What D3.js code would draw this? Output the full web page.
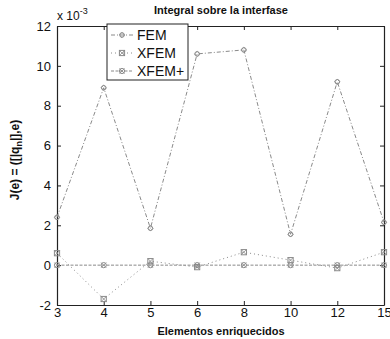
<!DOCTYPE html>
<html>
<head>
<meta charset="utf-8">
<script src="https://cdn.jsdelivr.net/npm/d3@7"></script>
<style>
  html, body { margin: 0; padding: 0; background: #fff; }
  svg { display: block; font-family: "Liberation Sans", Arial, sans-serif; }
</style>
</head>
<body>
<svg id="chart" width="390" height="339"></svg>
<script>
// Number of enriched elements (x categories)
const categories = ["3", "4", "5", "6", "8", "10", "12", "15"];
// J(e) values, in units of 1e-3
const femValues   = [2.4, 8.9, 1.85, 10.6, 10.8, 1.55, 9.2, 2.15];
const xfemValues  = [0.6, -1.7, 0.2, -0.1, 0.65, 0.25, -0.15, 0.65];
const xfemPValues = [0.0, 0.0, 0.0, 0.0, 0.0, 0.0, 0.0, 0.0];
const yTicks = [-2, 0, 2, 4, 6, 8, 10, 12];
const seriesNames = ["FEM", "XFEM", "XFEM+"];
const scaleFactor = 1e-3;

const series = [
  { name: seriesNames[0], values: femValues,   dash: "4,2,1,2", marker: "diamond" },
  { name: seriesNames[1], values: xfemValues,  dash: "1,3",     marker: "boxx" },
  { name: seriesNames[2], values: xfemPValues, dash: "3,1.5",   marker: "circlex" }
];

const svg = d3.select("#chart");
const L = 57, R = 384, T = 26, B = 305;

const x = d3.scalePoint().domain(categories).range([L, R]).padding(0);
const y = d3.scaleLinear().domain([-2 * scaleFactor, 12 * scaleFactor]).range([B, T]);

const ink = "#222";
const markColor = "#8a8a8a";

// axes box with inward ticks on all four sides
const fmt = d => String(Math.round(d / scaleFactor));
const tickVals = yTicks.map(v => v * scaleFactor);

const gLeft = svg.append("g").attr("transform", `translate(${L},0)`)
  .call(d3.axisLeft(y).tickValues(tickVals).tickFormat(fmt).tickSizeInner(-4).tickSizeOuter(0).tickPadding(6));
const gRight = svg.append("g").attr("transform", `translate(${R},0)`)
  .call(d3.axisRight(y).tickValues(tickVals).tickFormat("").tickSizeInner(-4).tickSizeOuter(0));
const gBottom = svg.append("g").attr("transform", `translate(0,${B})`)
  .call(d3.axisBottom(x).tickSizeInner(-4).tickSizeOuter(0).tickPadding(3));
const gTop = svg.append("g").attr("transform", `translate(0,${T})`)
  .call(d3.axisTop(x).tickFormat("").tickSizeInner(-4).tickSizeOuter(0));

[gLeft, gRight, gBottom, gTop].forEach(g => {
  g.selectAll(".domain").attr("stroke", ink).attr("stroke-width", 1.2);
  g.selectAll(".tick line").attr("stroke", ink);
  g.selectAll("text").attr("font-size", 13).attr("fill", "#111")
    .attr("font-family", "'Liberation Sans', Arial, sans-serif");
});
gBottom.selectAll("text").attr("y", 3).attr("dy", "0.71em");

// series lines
const line = d3.line().x((d, i) => x(categories[i])).y(d => y(d * scaleFactor));

function drawMarker(g, type, cx, cy) {
  const s = 2.6;
  if (type === "diamond") {
    g.append("path").attr("d", `M${cx - s},${cy}L${cx},${cy - s}L${cx + s},${cy}L${cx},${cy + s}Z`)
      .attr("fill", "none").attr("stroke", markColor).attr("stroke-width", 1);
    g.append("circle").attr("cx", cx).attr("cy", cy).attr("r", s * 0.9)
      .attr("fill", "none").attr("stroke", markColor).attr("stroke-width", 0.8);
  } else if (type === "boxx") {
    g.append("rect").attr("x", cx - s).attr("y", cy - s).attr("width", 2 * s).attr("height", 2 * s)
      .attr("fill", "none").attr("stroke", markColor).attr("stroke-width", 1);
    g.append("path").attr("d", `M${cx - s},${cy - s}L${cx + s},${cy + s}M${cx + s},${cy - s}L${cx - s},${cy + s}`)
      .attr("stroke", markColor).attr("stroke-width", 0.8);
  } else {
    g.append("circle").attr("cx", cx).attr("cy", cy).attr("r", s)
      .attr("fill", "none").attr("stroke", markColor).attr("stroke-width", 1);
    g.append("path").attr("d", `M${cx - s},${cy - s}L${cx + s},${cy + s}M${cx + s},${cy - s}L${cx - s},${cy + s}`)
      .attr("stroke", markColor).attr("stroke-width", 0.8);
  }
}

series.forEach(s => {
  const g = svg.append("g");
  g.append("path").datum(s.values).attr("d", line)
    .attr("fill", "none").attr("stroke", markColor).attr("stroke-width", 1)
    .attr("stroke-dasharray", s.dash);
  s.values.forEach((v, i) => drawMarker(g, s.marker, x(categories[i]), y(v * scaleFactor)));
});

// legend
const lg = svg.append("g");
lg.append("rect").attr("x", 107).attr("y", 24).attr("width", 81).attr("height", 56)
  .attr("fill", "#fff").attr("stroke", ink).attr("stroke-width", 1);
series.forEach((s, i) => {
  const yy = 35 + i * 18;
  lg.append("line").attr("x1", 111).attr("x2", 133).attr("y1", yy).attr("y2", yy)
    .attr("stroke", markColor).attr("stroke-width", 1).attr("stroke-dasharray", s.dash);
  drawMarker(lg, s.marker, 122, yy);
  lg.append("text").attr("x", 137).attr("y", yy + 5).attr("font-size", 14).attr("fill", "#111")
    .text(s.name);
});

// exponent label
const ex = svg.append("text").attr("x", 57).attr("y", 20).attr("font-size", 12).attr("fill", "#111");
ex.append("tspan").text("x 10");
ex.append("tspan").attr("dy", -6).attr("font-size", 9).text("-3");

// title and axis labels
svg.append("text").attr("x", 221).attr("y", 14).attr("text-anchor", "middle")
  .attr("font-size", 11).attr("font-weight", "bold").attr("fill", "#111")
  .text("Integral sobre la interfase");

svg.append("text").attr("x", 221).attr("y", 335).attr("text-anchor", "middle")
  .attr("font-size", 11).attr("font-weight", "bold").attr("fill", "#111")
  .text("Elementos enriquecidos");

const yl = svg.append("text").attr("transform", "translate(19,160) rotate(-90)")
  .attr("text-anchor", "middle").attr("font-size", 12).attr("font-weight", "bold").attr("fill", "#111");
yl.append("tspan").text("J(e) = ([|q");
yl.append("tspan").attr("dy", 3).attr("font-size", 9).text("n");
yl.append("tspan").attr("dy", -3).text("|],e)");
</script>
</body>
</html>
